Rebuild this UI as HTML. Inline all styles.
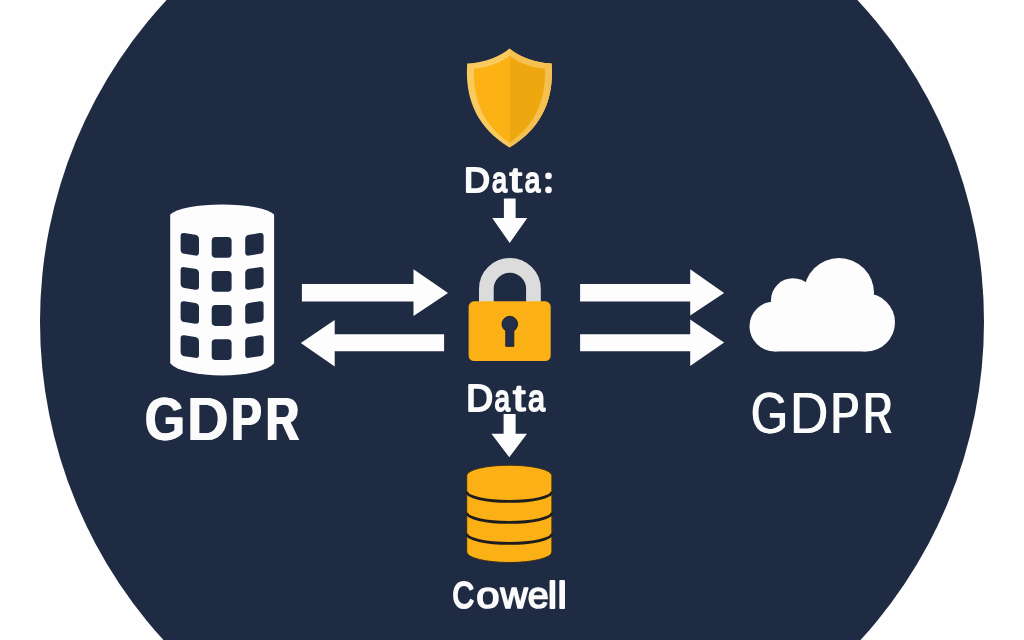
<!DOCTYPE html>
<html>
<head>
<meta charset="utf-8">
<title>GDPR data flow</title>
<style>
html,body{margin:0;padding:0;background:#fefefe;overflow:hidden;}
body{width:1024px;height:640px;font-family:"Liberation Sans",sans-serif;}
svg{display:block;}
text{font-family:"Liberation Sans",sans-serif;}
</style>
</head>
<body>
<svg width="1024" height="640" viewBox="0 0 1024 640">
  <defs><filter id="gs" x="-5%" y="-20%" width="110%" height="140%" color-interpolation-filters="sRGB"><feOffset dx="0" dy="0"/></filter></defs>
  <rect width="1024" height="640" fill="#fefefe"/>
  <!-- big navy disc -->
  <circle cx="512" cy="321.7" r="472" fill="#1f2b43"/>

  <!-- shield -->
  <g id="shield">
    <path d="M509.5,48.6 C502,55 486,63 467.2,63.6 C465,95 474,126 509.5,147.6 C545,126 554,95 551.6,63.6 C533,63 517,55 509.5,48.6 Z" fill="#f9ca5e"/>
    <path d="M509.5,48.6 V147.6 C545,126 554,95 551.6,63.6 C533,63 517,55 509.5,48.6 Z" fill="#f5c04f"/>
    <path d="M509.5,55.6 C503,61.5 490,67.6 474,68.7 C473,95 480.5,123 509.5,142.8 Z" fill="#fcb114"/>
    <path d="M509.5,55.6 C516,61.5 529,67.6 544.9,68.7 C545.9,95 538.5,123 509.5,142.8 Z" fill="#eea70f"/>
  </g>

  <!-- Data: -->
  <g id="t_DATA1" filter="url(#gs)">
    <text transform="matrix(0.3590,0,0,0.3547,464.11,191.70)" font-size="100" font-weight="normal" fill="#fbfbfb" stroke="#fbfbfb" stroke-width="2.0" stroke-linejoin="round" vector-effect="non-scaling-stroke">D</text>
    <text transform="matrix(0.2704,0,0,0.3547,491.96,191.80)" font-size="100" font-weight="normal" fill="#fbfbfb" stroke="#fbfbfb" stroke-width="1.8" stroke-linejoin="round" vector-effect="non-scaling-stroke">a</text>
    <text transform="matrix(0.4488,0,0,0.3547,509.48,191.80)" font-size="100" font-weight="normal" fill="#fbfbfb" stroke="#fbfbfb" stroke-width="1.8" stroke-linejoin="round" vector-effect="non-scaling-stroke">t</text>
    <text transform="matrix(0.2792,0,0,0.3547,524.63,191.80)" font-size="100" font-weight="normal" fill="#fbfbfb" stroke="#fbfbfb" stroke-width="1.8" stroke-linejoin="round" vector-effect="non-scaling-stroke">a</text>
    <circle cx="548.5" cy="175.9" r="3.3" fill="#fbfbfb"/><circle cx="548.5" cy="189.9" r="3.3" fill="#fbfbfb"/>
  </g>
  <!-- arrow down 1 -->
  <polygon points="503.9,198.4 515.6,198.4 515.6,218 527.3,218 509.7,243 492.2,218 503.9,218" fill="#fdfdfd"/>

  <!-- lock -->
  <g id="lock">
    <path d="M486.35,304 V288.9 A23.55,23.55 0 0 1 533.45,288.9 V304" fill="none" stroke="#dcdcdd" stroke-width="14.7"/>
    <rect x="468.6" y="301.3" width="82.1" height="59.7" rx="5.5" fill="#fbb116"/>
    <path d="M505.8,346.3 V330.8 A7.8,7.8 0 1 1 513.8,330.8 V346.3 Z" fill="#222e4a" stroke="#1c1d22" stroke-width="0.9" stroke-linejoin="round"/>
  </g>

  <!-- left arrows -->
  <polygon points="301.9,283.9 413.5,283.9 413.5,269.3 448,292.9 413.5,316 413.5,301.4 301.9,301.4" fill="#fdfdfd"/>
  <polygon points="444.1,334.2 334.7,334.2 334.7,320 300.8,343 334.7,366.4 334.7,351.3 444.1,351.3" fill="#fdfdfd"/>
  <!-- right arrows -->
  <polygon points="580.1,283.9 690.2,283.9 690.2,269.3 724.1,293 690.2,315.6 690.2,301.4 580.1,301.4" fill="#fdfdfd"/>
  <polygon points="580.1,334.2 690.2,334.2 690.2,319.6 724.1,342.6 690.2,366 690.2,351.3 580.1,351.3" fill="#fdfdfd"/>

  <!-- building -->
  <g id="building">
    <path d="M170.2,214.5 A53.5,13.2 0 0 1 274.1,214.5 V363.3 A53.5,16 0 0 1 170.2,363.3 Z" fill="#fdfdfd"/>
    <g fill="#1f2b43">
      <!-- centre column -->
      <rect x="211.7" y="236.9" width="19.9" height="20.8" rx="3.8"/>
      <rect x="211.7" y="271" width="19.9" height="20.8" rx="3.8"/>
      <rect x="211.7" y="305.1" width="19.9" height="20.8" rx="3.8"/>
      <rect x="211.7" y="339.2" width="19.9" height="20.8" rx="3.8"/>
      <!-- left column -->
      <g transform="translate(189.8,0) skewY(9) translate(-189.8,0)">
        <rect x="180.6" y="233.9" width="18.4" height="20.8" rx="3.8"/>
        <rect x="180.6" y="268.0" width="18.4" height="20.8" rx="3.8"/>
        <rect x="180.6" y="302.1" width="18.4" height="20.8" rx="3.8"/>
        <rect x="180.6" y="336.2" width="18.4" height="20.8" rx="3.8"/>
      </g>
      <!-- right column -->
      <g transform="translate(254.4,0) skewY(-9) translate(-254.4,0)">
        <rect x="245.2" y="233.9" width="18.4" height="20.8" rx="3.8"/>
        <rect x="245.2" y="268.0" width="18.4" height="20.8" rx="3.8"/>
        <rect x="245.2" y="302.1" width="18.4" height="20.8" rx="3.8"/>
        <rect x="245.2" y="336.2" width="18.4" height="20.8" rx="3.8"/>
      </g>
    </g>
  </g>

  <!-- GDPR left (bold) -->
  <g id="t_GDPR_L" filter="url(#gs)">
    <text transform="matrix(0.5211,0,0,0.6134,144.11,439.90)" font-size="100" font-weight="bold" fill="#fbfbfb">G</text>
    <text transform="matrix(0.5211,0,0,0.6134,145.29,439.90)" font-size="100" font-weight="bold" fill="#fbfbfb">G</text>
    <text transform="matrix(0.5838,0,0,0.6134,186.45,439.90)" font-size="100" font-weight="bold" fill="#fbfbfb">D</text>
    <text transform="matrix(0.5838,0,0,0.6134,186.90,439.90)" font-size="100" font-weight="bold" fill="#fbfbfb">D</text>
    <text transform="matrix(0.4593,0,0,0.6134,230.17,439.90)" font-size="100" font-weight="bold" fill="#fbfbfb">P</text>
    <text transform="matrix(0.4593,0,0,0.6134,232.07,439.90)" font-size="100" font-weight="bold" fill="#fbfbfb">P</text>
    <text transform="matrix(0.4629,0,0,0.6134,264.84,439.90)" font-size="100" font-weight="bold" fill="#fbfbfb">R</text>
    <text transform="matrix(0.4629,0,0,0.6134,266.69,439.90)" font-size="100" font-weight="bold" fill="#fbfbfb">R</text>
  </g>

  <!-- cloud -->
  <g id="cloud" fill="#fdfdfd">
    <circle cx="839" cy="293" r="35"/>
    <circle cx="793" cy="300.2" r="22"/>
    <circle cx="774.5" cy="326.4" r="25"/>
    <circle cx="866" cy="322.4" r="29"/>
    <rect x="774.5" y="300" width="91.5" height="51.4"/>
  </g>

  <!-- GDPR right (regular) -->
  <g id="t_GDPR_R" filter="url(#gs)">
    <text transform="matrix(0.4770,0,0,0.5770,750.31,433.30)" font-size="100" font-weight="normal" fill="#fbfbfb">G</text>
    <text transform="matrix(0.4770,0,0,0.5770,751.62,433.30)" font-size="100" font-weight="normal" fill="#fbfbfb">G</text>
    <text transform="matrix(0.5337,0,0,0.5770,789.42,433.30)" font-size="100" font-weight="normal" fill="#fbfbfb">D</text>
    <text transform="matrix(0.5337,0,0,0.5770,790.23,433.30)" font-size="100" font-weight="normal" fill="#fbfbfb">D</text>
    <text transform="matrix(0.4279,0,0,0.5770,829.99,433.30)" font-size="100" font-weight="normal" fill="#fbfbfb">P</text>
    <text transform="matrix(0.4279,0,0,0.5770,831.73,433.30)" font-size="100" font-weight="normal" fill="#fbfbfb">P</text>
    <text transform="matrix(0.4051,0,0,0.5770,862.38,433.30)" font-size="100" font-weight="normal" fill="#fbfbfb">R</text>
    <text transform="matrix(0.4051,0,0,0.5770,864.31,433.30)" font-size="100" font-weight="normal" fill="#fbfbfb">R</text>
  </g>

  <!-- Data -->
  <g id="t_DATA2" filter="url(#gs)">
    <text transform="matrix(0.3699,0,0,0.3663,466.27,411.20)" font-size="100" font-weight="normal" fill="#fbfbfb" stroke="#fbfbfb" stroke-width="2.0" stroke-linejoin="round" vector-effect="non-scaling-stroke">D</text>
    <text transform="matrix(0.2782,0,0,0.3663,494.43,411.30)" font-size="100" font-weight="normal" fill="#fbfbfb" stroke="#fbfbfb" stroke-width="1.8" stroke-linejoin="round" vector-effect="non-scaling-stroke">a</text>
    <text transform="matrix(0.4488,0,0,0.3663,512.88,411.30)" font-size="100" font-weight="normal" fill="#fbfbfb" stroke="#fbfbfb" stroke-width="1.8" stroke-linejoin="round" vector-effect="non-scaling-stroke">t</text>
    <text transform="matrix(0.3054,0,0,0.3663,528.02,411.30)" font-size="100" font-weight="normal" fill="#fbfbfb" stroke="#fbfbfb" stroke-width="1.8" stroke-linejoin="round" vector-effect="non-scaling-stroke">a</text>
  </g>
  <!-- arrow down 2 -->
  <polygon points="503.6,414 515.6,414 515.6,433.75 527,433.75 509.3,457.2 491.4,433.75 503.6,433.75" fill="#fdfdfd"/>

  <!-- database -->
  <g id="db">
    <path d="M466.7,475.6 A42.6,10.4 0 0 1 551.9,475.6 V552 A42.6,10.5 0 0 1 466.7,552 Z" fill="#fbb116" stroke="#3b2f1c" stroke-width="1"/>
    <g fill="none" stroke="#1e1c1f" stroke-width="2.9">
      <path d="M466.7,491.8 A42.6,9.6 0 0 0 551.9,491.8"/>
      <path d="M466.7,512.8 A42.6,9.6 0 0 0 551.9,512.8"/>
      <path d="M466.7,533.8 A42.6,9.6 0 0 0 551.9,533.8"/>
    </g>
  </g>

  <!-- Cowell -->
  <g id="t_COWELL" filter="url(#gs)">
    <text transform="matrix(0.2981,0,0,0.3688,452.61,607.90)" font-size="100" font-weight="normal" fill="#fbfbfb" stroke="#fbfbfb" stroke-width="2.0" stroke-linejoin="round" vector-effect="non-scaling-stroke">C</text>
    <text transform="matrix(0.4195,0,0,0.3688,476.19,608.05)" font-size="100" font-weight="normal" fill="#fbfbfb" stroke="#fbfbfb" stroke-width="1.7" stroke-linejoin="round" vector-effect="non-scaling-stroke">o</text>
    <text transform="matrix(0.3760,0,0,0.3688,500.43,608.05)" font-size="100" font-weight="normal" fill="#fbfbfb" stroke="#fbfbfb" stroke-width="1.7" stroke-linejoin="round" vector-effect="non-scaling-stroke">w</text>
    <text transform="matrix(0.3766,0,0,0.3688,527.77,608.05)" font-size="100" font-weight="normal" fill="#fbfbfb" stroke="#fbfbfb" stroke-width="1.7" stroke-linejoin="round" vector-effect="non-scaling-stroke">e</text>
    <text transform="matrix(0.3977,0,0,0.3688,548.00,607.90)" font-size="100" font-weight="normal" fill="#fbfbfb" stroke="#fbfbfb" stroke-width="2.0" stroke-linejoin="round" vector-effect="non-scaling-stroke">l</text>
    <text transform="matrix(0.3977,0,0,0.3688,557.70,607.90)" font-size="100" font-weight="normal" fill="#fbfbfb" stroke="#fbfbfb" stroke-width="2.0" stroke-linejoin="round" vector-effect="non-scaling-stroke">l</text>
  </g>
</svg>
</body>
</html>
